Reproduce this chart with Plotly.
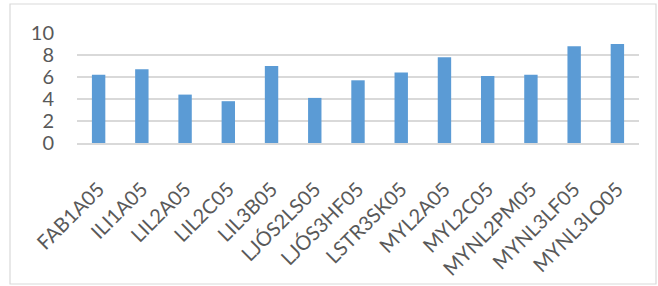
import plotly.graph_objects as go

categories = ["FAB1A05", "ILI1A05", "LIL2A05", "LIL2C05", "LIL3B05", "LJÓS2LS05",
              "LJÓS3HF05", "LSTR3SK05", "MYL2A05", "MYL2C05", "MYNL2PM05",
              "MYNL3LF05", "MYNL3LO05"]
values = [6.2, 6.7, 4.4, 3.8, 7.0, 4.1, 5.7, 6.4, 7.8, 6.1, 6.2, 8.8, 9.0]
y_ticks = [0, 2, 4, 6, 8, 10]

W, H = 658, 286
L, R, T, B = 77, 19, 33, 143
pw, ph = W - L - R, H - T - B

def px(x):
    return (x - L) / pw

def py(y):
    return (H - B - y) / ph

fig = go.Figure(go.Bar(x=categories, y=values, marker=dict(color="#5b9bd5", line=dict(width=0)),
                       width=0.31))

font_family = "Lato, 'Open Sans', sans-serif"
fig.update_layout(
    width=W, height=H,
    margin=dict(l=L, r=R, t=T, b=B, autoexpand=False),
    paper_bgcolor="white", plot_bgcolor="white",
    showlegend=False,
    font=dict(family=font_family, color="#595959"),
    shapes=[dict(type="rect", xref="paper", yref="paper",
                 x0=px(10), x1=px(656), y0=py(284), y1=py(4),
                 line=dict(color="#d9d9d9", width=1.2), fillcolor="rgba(0,0,0,0)", layer="below")],
)
fig.update_yaxes(range=[0, 10], tickvals=y_ticks, showgrid=True, gridcolor="#d9d9d9", gridwidth=1.5,
                 zeroline=False, showline=False, ticks="", tickfont=dict(size=20, color="#595959"),
                 ticklabelstandoff=22, automargin=False)
fig.update_xaxes(showline=True, linecolor="#d9d9d9", linewidth=1.5, ticks="", showgrid=False,
                 tickangle=-45, tickfont=dict(size=20, color="#595959"), automargin=False,
                 ticklabelstandoff=25,
                 range=[-0.5, len(categories) - 0.5])

fig.write_html("out.html", config={"displayModeBar": False},
               post_script="document.body.style.margin='0';document.body.style.overflow='hidden';")
